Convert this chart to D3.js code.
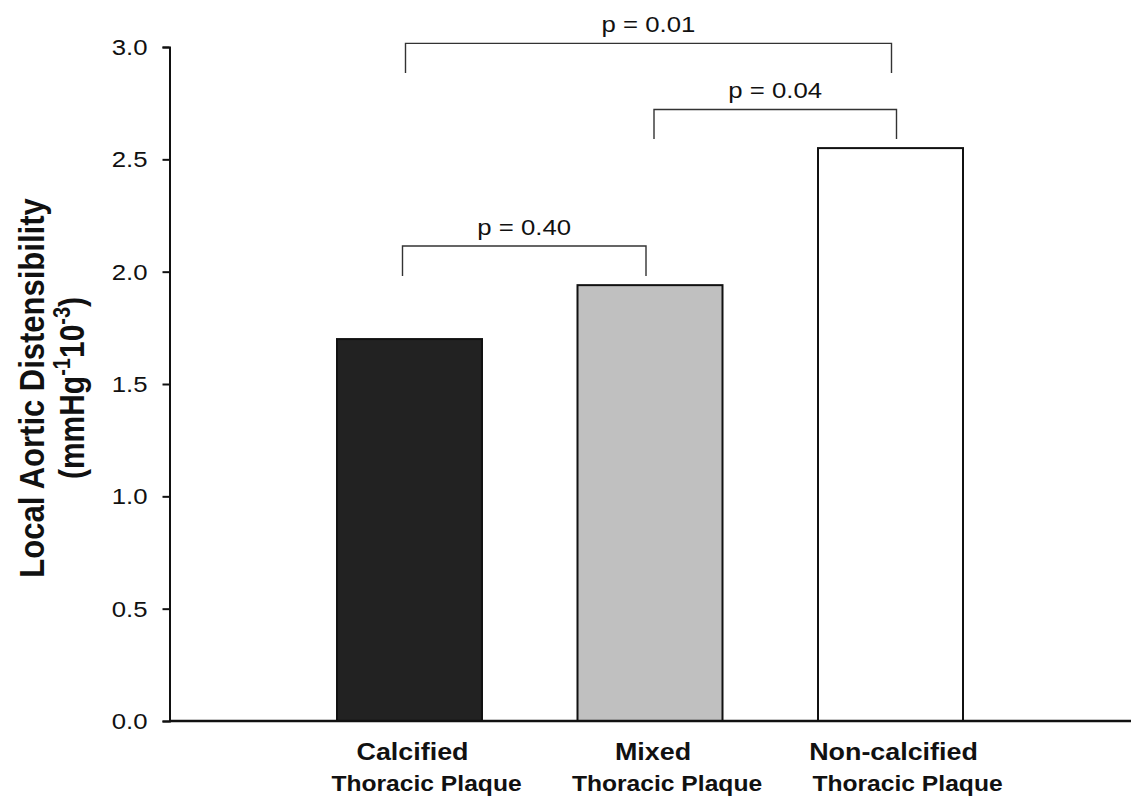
<!DOCTYPE html>
<html>
<head>
<meta charset="utf-8">
<script src="https://cdn.jsdelivr.net/npm/d3@7"></script>
<style>
  body { margin: 0; background: #fff; }
  text { font-family: "Liberation Sans", Arial, sans-serif; fill: #111; }
</style>
</head>
<body>
<div class="contain"></div>
<script>
// data
const categories = ["Calcified", "Mixed", "Non-calcified"];
const labelLines = [["Calcified", "Thoracic Plaque"], ["Mixed", "Thoracic Plaque"], ["Non-calcified", "Thoracic Plaque"]];
const values = [1.70, 1.94, 2.55];
const fills = ["#222222", "#c0c0c0", "#ffffff"];
const yTicks = [0, 0.5, 1.0, 1.5, 2.0, 2.5, 3.0];
const pairs = [["Calcified", "Non-calcified"], ["Mixed", "Non-calcified"], ["Calcified", "Mixed"]];
const pLabels = ["p = 0.01", "p = 0.04", "p = 0.40"];
const bracketTop = [3.016, 2.722, 2.114];
const bracketBottom = [2.884, 2.59, 1.981];

const svg_width = 1131;
const svg_height = 802;
const sx = 1.12; // text looks horizontally stretched in the reference

let svg = d3.select(".contain").append("svg")
            .attr("width", svg_width).attr("height", svg_height);

let xScale = d3.scalePoint().domain(categories).range([169, 1131]).padding(1);
let yScale = d3.scaleLinear().domain([0, 3]).range([721, 47]);
const barW = 145;

// bars
svg.selectAll("rect.bar")
  .data(values).enter().append("rect")
  .attr("class", "bar")
  .attr("x", (d, i) => xScale(categories[i]) - barW / 2)
  .attr("width", barW)
  .attr("y", d => yScale(d))
  .attr("height", d => yScale(0) - yScale(d))
  .attr("fill", (d, i) => fills[i])
  .attr("stroke", "#111")
  .attr("stroke-width", 2);

// y axis
let yAxis = d3.axisLeft(yScale).tickValues(yTicks).tickFormat(d3.format(".1f"))
              .tickSize(7).tickPadding(15);
let gy = svg.append("g").attr("transform", "translate(169.5,0)").call(yAxis);
gy.select(".domain").attr("stroke", "#111").attr("stroke-width", 2);
gy.selectAll(".tick line").attr("stroke", "#111").attr("stroke-width", 2);
gy.selectAll(".tick text")
  .attr("font-size", 23).attr("fill", "#111")
  .attr("font-family", "Liberation Sans, Arial, sans-serif")
  .attr("transform", `translate(-22,0) scale(${sx},1) translate(22,0)`);

// x axis baseline
svg.append("line")
  .attr("x1", 169).attr("x2", 1131)
  .attr("y1", yScale(0)).attr("y2", yScale(0))
  .attr("stroke", "#111").attr("stroke-width", 2.5);

// category labels
labelLines.forEach((lines, i) => {
  lines.forEach((s, j) => {
    svg.append("text")
      .attr("transform", `translate(${xScale(categories[i]) + (j ? 17 : 3)},${760 + j * 31}) scale(${sx},1)`)
      .attr("text-anchor", "middle")
      .attr("font-size", j ? 22 : 24).attr("font-weight", "bold")
      .text(s);
  });
});

// significance brackets
const nudge = [[-4, 1], [4, 6], [-7, -4]];
pairs.forEach((pr, i) => {
  let x1 = xScale(pr[0]) + nudge[i][0];
  let x2 = xScale(pr[1]) + nudge[i][1];
  let yt = yScale(bracketTop[i]);
  let yb = yScale(bracketBottom[i]);
  svg.append("path")
    .attr("d", `M${x1},${yb}V${yt}H${x2}V${yb}`)
    .attr("fill", "none").attr("stroke", "#333").attr("stroke-width", 1.4);
  svg.append("text")
    .attr("transform", `translate(${(x1 + x2) / 2},${yt - 11}) scale(${sx},1)`)
    .attr("text-anchor", "middle")
    .attr("font-size", 23)
    .text(pLabels[i]);
});

// y title
let midY = (yScale(0) + yScale(3)) / 2 + 4;
svg.append("text")
  .attr("transform", `translate(44,${midY}) scale(1.15,1) rotate(-90)`)
  .attr("text-anchor", "middle")
  .attr("font-size", 31).attr("font-weight", "bold")
  .text("Local Aortic Distensibility");
let t2 = svg.append("text")
  .attr("transform", `translate(84,${midY}) scale(1.15,1) rotate(-90)`)
  .attr("text-anchor", "middle")
  .attr("font-size", 30).attr("font-weight", "bold");
t2.append("tspan").text("(mmHg");
t2.append("tspan").attr("font-size", 20).attr("dy", -12).text("-1");
t2.append("tspan").attr("dy", 12).text("10");
t2.append("tspan").attr("font-size", 20).attr("dy", -12).text("-3");
t2.append("tspan").attr("dy", 12).text(")");
</script>
</body>
</html>
